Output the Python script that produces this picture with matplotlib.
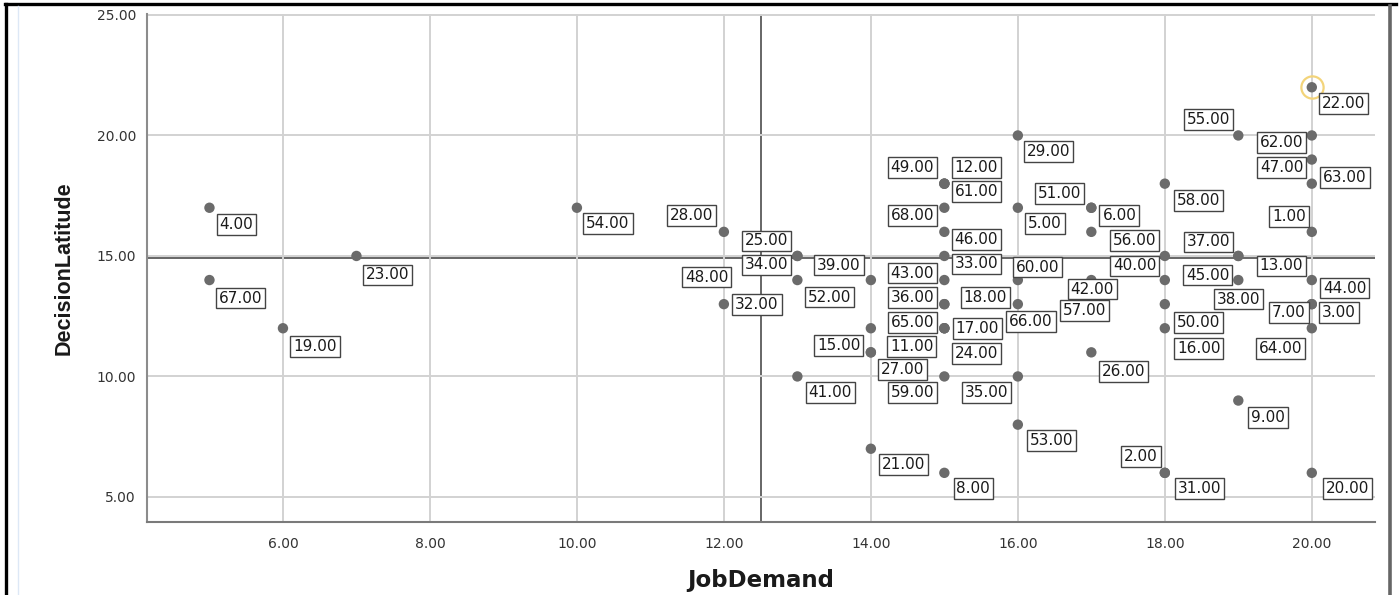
import matplotlib
matplotlib.use("Agg")
import matplotlib.pyplot as plt
from matplotlib.lines import Line2D
from matplotlib.ticker import FormatStrFormatter


# case number, JobDemand, DecisionLatitude
CASE_IDS = [1, 2, 3, 4, 5, 6, 7, 8, 9, 11, 12, 13, 15, 16, 17, 18, 19, 20,
            21, 22, 23, 24, 25, 26, 27, 28, 29, 31, 32, 33, 34, 35, 36, 37,
            38, 39, 40, 41, 42, 43, 44, 45, 46, 47, 48, 49, 50, 51, 52, 53,
            54, 55, 56, 57, 58, 59, 60, 61, 62, 63, 64, 65, 66, 67, 68]
JOB_DEMAND = [20, 18, 20, 5, 16, 17, 20, 15, 19, 14, 15, 19, 14, 18, 15, 15,
              6, 20, 14, 20, 7, 15, 13, 17, 14, 12, 16, 18, 12, 15, 13, 16,
              15, 19, 19, 14, 18, 13, 17, 15, 20, 18, 15, 20, 12, 15, 18, 17,
              13, 16, 10, 19, 17, 17, 18, 15, 16, 15, 20, 20, 20, 15, 16, 5,
              15]
DECISION_LATITUDE = [16, 6, 13, 17, 17, 17, 13, 6, 9, 11, 18, 15, 12, 12, 12,
                     13, 12, 6, 7, 22, 15, 12, 15, 11, 11, 16, 20, 6, 13, 15,
                     15, 10, 13, 15, 14, 14, 15, 10, 14, 14, 14, 14, 16, 19,
                     14, 18, 13, 17, 14, 8, 17, 20, 16, 13, 18, 10, 14, 18, 20,
                     18, 12, 12, 13, 14, 17]
HIGHLIGHT_CASE = 22

# reference lines
REF_X = 12.5
REF_Y = 14.9

# label centre offsets in pixels (dx right, dy down), keyed by case number
LABEL_OFFSETS = {
    1: (-23, -15), 2: (-24, -16), 3: (27, 8), 4: (27, 17), 5: (27, 16),
    6: (28, 8), 7: (-23, 8), 8: (29, 16), 9: (30, 17), 11: (41, -6),
    12: (32, -16), 13: (43, 10), 15: (-32, 17), 16: (34, 20), 17: (33, 0),
    18: (41, -7), 19: (32, 18), 20: (36, 16), 21: (33, 16), 22: (32, 16),
    23: (31, 19), 24: (32, 25), 25: (-31, -15), 26: (32, 19), 27: (32, 17),
    28: (-32, -16), 29: (31, 16), 31: (35, 16), 32: (33, 0), 33: (32, 8),
    34: (-31, 9), 35: (-31, 16), 36: (-32, -7), 37: (-30, -14), 38: (0, 19),
    39: (-32, -15), 40: (-30, 10), 41: (33, 16), 42: (1, 9), 43: (-32, -7),
    44: (33, 8), 45: (43, -5), 46: (32, 8), 47: (-30, 8), 48: (-17, -3),
    49: (-32, -16), 50: (34, 18), 51: (-32, -14), 52: (32, 17), 53: (34, 16),
    54: (31, 16), 55: (-30, -16), 56: (43, 9), 57: (-7, 6), 58: (34, 17),
    59: (-32, 16), 60: (20, -13), 61: (32, 8), 62: (-30, 7), 63: (33, -6),
    64: (-31, 20), 65: (-32, -6), 66: (13, 17), 67: (31, 18), 68: (-32, 8),
}

W, H = 1399, 595


def main():
    fig = plt.figure(figsize=(W / 100, H / 100), dpi=100)
    ax = fig.add_axes([147 / W, 1 - 522 / H, 1228 / W, 508 / H])

    ax.grid(True, color="#d2d2d2", linewidth=1.4, zorder=0)
    ax.axvline(REF_X, color="#4d4d4d", linewidth=1.2, zorder=1)
    ax.axhline(REF_Y, color="#4d4d4d", linewidth=1.2, zorder=1)

    ax.scatter(JOB_DEMAND, DECISION_LATITUDE, s=56, color="#6b6b6b",
               edgecolors="none", zorder=3)

    i = CASE_IDS.index(HIGHLIGHT_CASE)
    ax.plot(JOB_DEMAND[i], DECISION_LATITUDE[i], marker="o", markersize=16,
            markerfacecolor="none", markeredgecolor="#f3d47a",
            markeredgewidth=1.6, zorder=4)

    for case, x, y in zip(CASE_IDS, JOB_DEMAND, DECISION_LATITUDE):
        dx, dy = LABEL_OFFSETS[case]
        ax.annotate(f"{case:.2f}", xy=(x, y), xytext=(dx, -dy),
                    textcoords="offset pixels", ha="center", va="center",
                    fontsize=11, color="#1a1a1a", zorder=5,
                    bbox=dict(boxstyle="square,pad=0.19", facecolor="white",
                              edgecolor="#444444", linewidth=1.0))

    ax.set_xlim(4.15, 20.86)
    ax.set_ylim(3.96, 25.04)
    ax.set_xticks(range(6, 21, 2))
    ax.set_yticks(range(5, 26, 5))
    ax.xaxis.set_major_formatter(FormatStrFormatter("%.2f"))
    ax.yaxis.set_major_formatter(FormatStrFormatter("%.2f"))
    ax.tick_params(axis="both", length=0, labelsize=10, labelcolor="#333333")
    ax.tick_params(axis="x", pad=11)
    ax.tick_params(axis="y", pad=8)

    for side in ("top", "right"):
        ax.spines[side].set_visible(False)
    ax.spines["left"].set_color("#8c8c8c")
    ax.spines["left"].set_linewidth(1.5)
    ax.spines["bottom"].set_color("#7a7a7a")
    ax.spines["bottom"].set_linewidth(1.5)

    ax.set_xlabel("JobDemand", fontsize=16.5, fontweight="bold",
                  color="#1a1a1a", va="center")
    ax.xaxis.set_label_coords(0.5, -58 / 508)
    ax.set_ylabel("DecisionLatitude", fontsize=15.5, fontweight="bold",
                  color="#1a1a1a", va="center", family="Liberation Sans")
    ax.yaxis.set_label_coords(-83 / 1228, 0.5)

    # outer frame of the output window
    fig.add_artist(Line2D([5 / W, 1396 / W], [1 - 4 / H, 1 - 4 / H],
                          transform=fig.transFigure, color="black",
                          linewidth=2.4))
    fig.add_artist(Line2D([6.5 / W, 6.5 / W], [0, 1 - 4 / H],
                          transform=fig.transFigure, color="black",
                          linewidth=2.4))
    fig.add_artist(Line2D([18 / W, 18 / W], [0, 1 - 6 / H],
                          transform=fig.transFigure, color="#dde8f6",
                          linewidth=1.0))
    fig.add_artist(Line2D([1389.5 / W, 1389.5 / W], [0, 1 - 6 / H],
                          transform=fig.transFigure, color="#666666",
                          linewidth=2.6))

    fig.savefig("out.png", dpi=100)


if __name__ == "__main__":
    main()
